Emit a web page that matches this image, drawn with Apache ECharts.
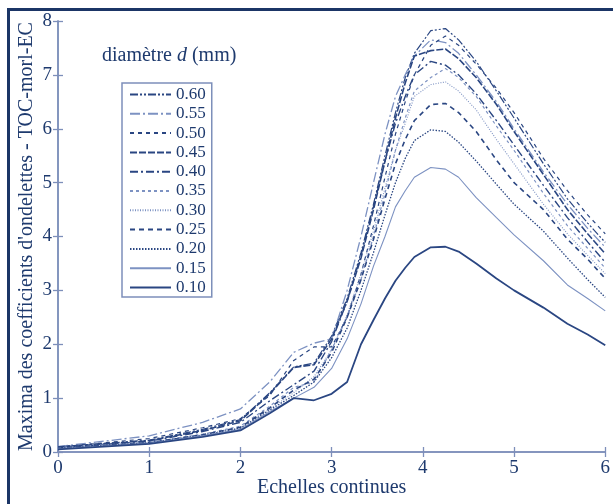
<!DOCTYPE html>
<html><head><meta charset="utf-8">
<script src="https://cdn.jsdelivr.net/npm/echarts@6/dist/echarts.min.js"></script>
<style>html,body{margin:0;padding:0;background:#fff}#c{width:613px;height:504px}</style>
</head><body><div id="c"></div>
<script>
// x positions: log2 of the continuous scale
const xScale = [0, 1, 1.585, 2, 2.322, 2.585, 2.807, 3, 3.17, 3.322, 3.459, 3.585, 3.7, 3.807, 3.907, 4.087, 4.248, 4.392, 4.585, 4.807, 5, 5.322, 5.585, 5.807, 6];
const diameters = ['0.60','0.55','0.50','0.45','0.40','0.35','0.30','0.25','0.20','0.15','0.10'];
const d060 = [0.10,0.22,0.42,0.60,1.10,1.58,1.65,2.15,2.85,3.70,4.60,5.50,6.30,6.95,7.40,7.82,7.86,7.65,7.25,6.70,6.20,5.35,4.70,4.25,3.89];
const d055 = [0.10,0.30,0.55,0.80,1.30,1.85,2.02,2.10,3.00,4.00,5.00,5.90,6.60,7.00,7.35,7.65,7.60,7.40,7.00,6.50,6.00,5.20,4.60,4.15,3.80];
const d050 = [0.09,0.25,0.45,0.62,1.05,1.70,1.95,1.95,2.50,3.30,4.20,5.10,5.90,6.50,7.00,7.55,7.72,7.55,7.20,6.75,6.30,5.45,4.85,4.40,4.05];
const d045 = [0.09,0.21,0.40,0.58,1.08,1.57,1.62,2.10,2.80,3.60,4.50,5.40,6.20,6.85,7.35,7.45,7.48,7.30,6.95,6.45,5.95,5.15,4.50,4.05,3.68];
const d040 = [0.08,0.20,0.38,0.55,0.95,1.25,1.50,2.05,2.80,3.65,4.55,5.40,6.10,6.60,7.00,7.25,7.18,7.00,6.65,6.15,5.70,4.95,4.35,3.90,3.52];
const d035 = [0.08,0.18,0.33,0.48,0.85,1.20,1.30,1.90,2.50,3.20,4.00,4.80,5.60,6.20,6.70,6.95,7.12,6.95,6.60,6.05,5.60,4.80,4.20,3.78,3.41];
const d030 = [0.07,0.18,0.32,0.45,0.80,1.10,1.40,1.90,2.55,3.30,4.10,4.90,5.60,6.10,6.60,6.82,6.87,6.70,6.35,5.80,5.35,4.60,4.05,3.65,3.31];
const d025 = [0.07,0.17,0.32,0.46,0.82,1.15,1.35,1.85,2.50,3.20,3.95,4.70,5.35,5.80,6.15,6.45,6.47,6.30,5.95,5.42,5.00,4.50,3.95,3.58,3.22];
const d020 = [0.07,0.17,0.31,0.44,0.78,1.05,1.30,1.75,2.30,3.00,3.70,4.40,5.00,5.45,5.78,5.98,5.95,5.75,5.40,4.97,4.60,4.10,3.60,3.20,2.87];
const d015 = [0.06,0.16,0.30,0.42,0.75,1.00,1.20,1.55,2.10,2.75,3.45,4.00,4.55,4.85,5.10,5.28,5.25,5.10,4.72,4.35,4.03,3.55,3.10,2.85,2.62];
const d010 = [0.05,0.15,0.28,0.40,0.72,1.00,0.96,1.08,1.30,2.00,2.45,2.85,3.18,3.42,3.62,3.80,3.81,3.72,3.50,3.22,3.00,2.68,2.38,2.18,1.98];
const values = [d060,d055,d050,d045,d040,d035,d030,d025,d020,d015,d010];
const xTicks = [0,1,2,3,4,5,6];
const yTicks = [0,1,2,3,4,5,6,7,8];

const DARK = '#2a4682', LIGHT = '#7d92c2', AX = '#7d8fba', TXT = '#1e3a6e';
const styles = [
  {c: DARK, w: 1.2, t: [8,2,2,2,2,2]},
  {c: LIGHT, w: 1.3, t: [10,3,2,3]},
  {c: DARK, w: 1.2, t: [4,4]},
  {c: DARK, w: 1.6, t: [7,2]},
  {c: DARK, w: 1.4, t: [8,3,2,3]},
  {c: LIGHT, w: 1.2, t: [3,3]},
  {c: LIGHT, w: 1.1, t: [1,1.5]},
  {c: DARK, w: 1.6, t: [5,4]},
  {c: DARK, w: 1.3, t: [1.5,1.5]},
  {c: LIGHT, w: 1.1, t: 'solid'},
  {c: DARK, w: 1.8, t: 'solid'}
];
const FONT = '"Liberation Serif", "Times New Roman", serif';

const series = diameters.map((name, i) => ({
  name, type: 'line', showSymbol: false, symbol: 'none', animation: false,
  data: xScale.map((x, j) => [x, values[i][j]]),
  lineStyle: {color: styles[i].c, width: styles[i].w, type: styles[i].t},
  itemStyle: {color: styles[i].c}
}));

const chart = echarts.init(document.getElementById('c'), null, {renderer: 'canvas'});
const axCommon = {
  axisLine: {show: true, lineStyle: {color: AX, width: 1.5}},
  axisTick: {show: true, inside: true, length: 5, lineStyle: {color: AX, width: 1.3}},
  splitLine: {show: false}
};
chart.setOption({
  animation: false,
  backgroundColor: '#fff',
  grid: {left: 58, right: 7, top: 21, bottom: 52, containLabel: false},
  xAxis: [
    Object.assign({type: 'value', min: 0, max: 6, interval: 1, position: 'bottom',
      name: 'Echelles continues', nameLocation: 'middle', nameGap: 26, nameMoveOverlap: false,
      nameTextStyle: {fontFamily: FONT, fontSize: 20, color: TXT},
      axisLabel: {fontFamily: FONT, fontSize: 19, color: TXT, margin: 7}}, axCommon),
    Object.assign({type: 'value', min: 0, max: 6, interval: 1, position: 'top',
      axisLabel: {show: false}}, axCommon)
  ],
  yAxis: [
    Object.assign({type: 'value', min: 0, max: 8, interval: 1, position: 'left',
      name: "Maxima des coefficients d'ondelettes - TOC-morl-EC", nameLocation: 'middle', nameGap: 21, nameMoveOverlap: false,
      nameTextStyle: {fontFamily: FONT, fontSize: 20, color: TXT},
      axisLabel: {fontFamily: FONT, fontSize: 19, color: TXT, margin: 6}}, axCommon),
    Object.assign({type: 'value', min: 0, max: 8, interval: 1, position: 'right',
      axisLabel: {show: false}}, axCommon)
  ],
  legend: {
    orient: 'vertical', left: 122, top: 83,
    data: diameters,
    itemWidth: 41, itemHeight: 10, itemGap: 0.3,
    padding: [2, 6, 0, 7],
    borderColor: AX, borderWidth: 1.5, borderRadius: 0,
    backgroundColor: '#fff',
    selectedMode: false,
    itemStyle: {opacity: 0, borderWidth: 0},
    textStyle: {fontFamily: FONT, fontSize: 17, color: TXT, lineHeight: 19}
  },
  graphic: [
    {type: 'rect', left: 6, top: 7, z: 100, silent: true,
      shape: {x: 0, y: 0, width: 700, height: 600},
      style: {fill: 'none', stroke: '#1b3566', lineWidth: 3}},
    {type: 'text', left: 102, top: 46, z: 100, silent: true,
      style: {text: '{a|diamètre }{i|d}{a| (mm)}',
        rich: {a: {fontFamily: FONT, fontSize: 20, fill: TXT}, i: {fontFamily: FONT, fontSize: 20, fontStyle: 'italic', fill: TXT}}}}
  ],
  series
});
</script></body></html>
